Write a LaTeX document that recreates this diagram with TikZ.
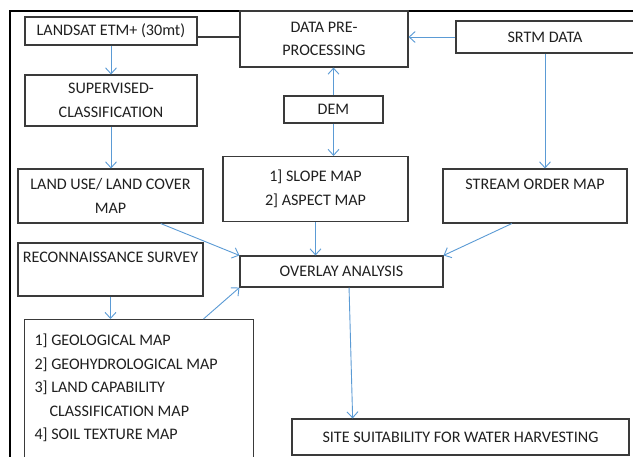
\documentclass[tikz,border=0pt]{standalone}
\usepackage{fontspec}
\setmainfont{Carlito}
\usetikzlibrary{arrows.meta,calc}
\definecolor{arrowblue}{HTML}{5B9BD5}
\definecolor{boxline}{HTML}{3A3A3A}
\definecolor{txt}{HTML}{202020}
\begin{document}
\begin{tikzpicture}[x=1pt,y=-1pt,
  box/.style={draw=boxline, line width=1.1pt, inner sep=0pt, align=center, text=txt,
    font=\fontsize{16.1}{23.5}\selectfont},
  arr/.style={draw=arrowblue, line width=0.9pt, -{Straight Barb[length=6pt,width=11pt]}},
  plainline/.style={draw=boxline, line width=1.1pt},
  frameline/.style={draw=black, line width=2.2pt}
]
\useasboundingbox (0,0) rectangle (633,456);
\fill[white] (0,0) rectangle (633,456);
\draw[frameline] (10,480) -- (10,11) -- (650,11);

\node[box, minimum width=172pt, minimum height=28pt] (landsat) at (111,31) {LANDSAT ETM+ (30mt)};
\node[box, minimum width=168pt, minimum height=56pt] (data) at (324,39) {DATA PRE-\\PROCESSING};
\node[box, minimum width=178pt, minimum height=32pt] (srtm) at (545,37) {SRTM DATA};
\node[box, minimum width=99pt, minimum height=27pt] (dem) at (333.5,109.5) {DEM};
\node[box, minimum width=172pt, minimum height=51pt] (superv) at (111,100.5) {SUPERVISED-\\CLASSIFICATION};
\node[box, minimum width=185pt, minimum height=54pt] (landuse) at (110.5,196) {LAND USE/ LAND COVER\\MAP};
\node[box, minimum width=185pt, minimum height=65pt] (slope) at (315.5,189) {1] SLOPE MAP\\2] ASPECT MAP};
\node[box, minimum width=184pt, minimum height=54pt] (stream) at (535,196) {STREAM ORDER MAP\\\mbox{}};
\node[box, minimum width=185pt, minimum height=53pt] (recon) at (110.5,269.5) {RECONNAISSANCE SURVEY\\\mbox{}};
\node[box, minimum width=203pt, minimum height=31pt] (overlay) at (341.5,271.5) {OVERLAY ANALYSIS};
\node[box, align=flush left, text width=209pt, inner xsep=10pt, minimum height=158pt, anchor=north west] (geo) at (24,319)
  {1] GEOLOGICAL MAP\\2] GEOHYDROLOGICAL MAP\\3] LAND CAPABILITY\\\hspace*{15pt}CLASSIFICATION MAP\\4] SOIL TEXTURE MAP\\\mbox{}};
\node[box, minimum width=337pt, minimum height=36pt] (site) at (460.5,437) {SITE SUITABILITY FOR WATER HARVESTING};

\draw[plainline] ([yshift=2pt]data.west -| landsat.east) -- ([yshift=2pt]data.west);
\draw[arr] (srtm.west) -- (srtm.west -| data.east);
\draw[arr] (dem.north) -- (dem.north |- data.south);
\draw[arr] (dem.south) -- (dem.south |- slope.north);
\draw[arr] (landsat.south) -- (superv.north);
\draw[arr] (superv.south) -- (superv.south |- landuse.north);
\draw[arr] (srtm.south) -- (srtm.south |- stream.north);
\draw[arr] ($(landuse.south west)!0.77!(landuse.south east)$) -- (overlay.north west);
\draw[arr] (slope.south) -- (slope.south |- overlay.north);
\draw[arr] ($(stream.south west)!0.375!(stream.south east)$) -- (overlay.north east);
\draw[arr] (recon.south) -- (recon.south |- geo.north);
\draw[arr] ($(geo.north west)!0.78!(geo.north east)$) -- (overlay.south west);
\draw[arr] ($(overlay.south west)!0.537!(overlay.south east)$) -- ($(site.north west)!0.181!(site.north east)$);
\end{tikzpicture}
\end{document}
